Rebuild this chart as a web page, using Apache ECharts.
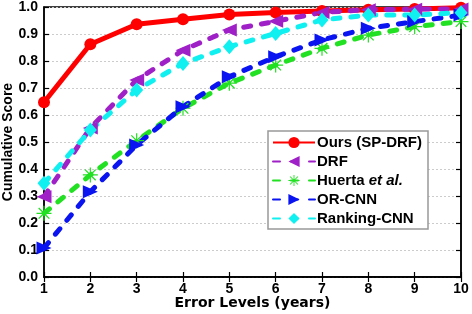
<!DOCTYPE html>
<html><head><meta charset="utf-8">
<script src="https://cdn.jsdelivr.net/npm/echarts@6/dist/echarts.min.js"></script>
<style>html,body{margin:0;padding:0;background:#fff}#c{width:472px;height:314px}</style>
</head><body><div id="c"></div>
<script>
var errorLevels = [1,2,3,4,5,6,7,8,9,10];
var yTicks = [0,0.1,0.2,0.3,0.4,0.5,0.6,0.7,0.8,0.9,1.0];
var oursSPDRF = [0.647,0.862,0.936,0.955,0.972,0.98,0.985,0.99,0.993,0.997];
var drf = [0.297,0.552,0.73,0.84,0.915,0.947,0.98,0.99,0.992,0.993];
var huerta = [0.236,0.378,0.505,0.625,0.718,0.785,0.847,0.896,0.927,0.946];
var orCnn = [0.107,0.316,0.489,0.631,0.742,0.816,0.878,0.921,0.946,0.97];
var rankingCnn = [0.347,0.544,0.693,0.791,0.853,0.902,0.952,0.97,0.97,0.979];

function pairs(v){ return errorLevels.map(function(x,i){ return [x, v[i]]; }); }
var FONT = 'Liberation Sans';
var asterisk = 'path://M-0.8,-10L0.8,-10L0.8,10L-0.8,10Z M-10,-0.8L10,-0.8L10,0.8L-10,0.8Z M-7.7,-6.5L-6.5,-7.7L7.7,6.5L6.5,7.7Z M6.5,-7.7L7.7,-6.5L-6.5,7.7L-7.7,6.5Z';

var chart = echarts.init(document.getElementById('c'), null, {renderer:'canvas'});
var dash = {type:[7,11], cap:'round', width:5};
chart.setOption({
  animation:false,
  grid:{left:44, right:11, top:7, bottom:37, outerBoundsMode:'none', containLabel:false,
        show:true, borderColor:'#000', borderWidth:1.5},
  legend:{
    orient:'vertical', left:268, top:131,
    backgroundColor:'#fff', borderColor:'#999', borderWidth:1.5,
    padding:[4,6,3,4], itemGap:4, itemWidth:42, itemHeight:14,
    textStyle:{fontFamily:FONT, fontWeight:'bold', fontSize:15, color:'#000', padding:[0,0,0,-3],
      rich:{i:{fontFamily:FONT, fontWeight:'bold', fontStyle:'italic', fontSize:15, color:'#000'}}},
    formatter:function(n){ return n==='Huerta et al.' ? 'Huerta {i|et al.}' : n; },
    data:['Ours (SP-DRF)','DRF','Huerta et al.','OR-CNN','Ranking-CNN']
  },
  xAxis:[{
    type:'value', min:1, max:10, interval:1,
    name:'Error Levels (years)', nameLocation:'middle', nameGap:19, nameMoveOverlap:false,
    nameTextStyle:{fontFamily:'DejaVu Sans', fontWeight:'bold', fontSize:14, color:'#000'},
    axisLine:{show:true, lineStyle:{color:'#000', width:1.5}},
    axisTick:{inside:true, length:5, lineStyle:{color:'#000', width:1.2}},
    axisLabel:{fontFamily:FONT, fontWeight:'bold', fontSize:14, color:'#000', margin:5},
    splitLine:{show:false}
  },{
    type:'value', min:1, max:10, interval:1, position:'top',
    axisLine:{show:true, lineStyle:{color:'#000', width:1.5}},
    axisTick:{inside:true, length:5, lineStyle:{color:'#000', width:1.2}},
    axisLabel:{show:false}, splitLine:{show:false}
  }],
  yAxis:[{
    type:'value', min:0, max:1, interval:0.1,
    name:'Cumulative Score', nameLocation:'middle', nameGap:29, nameMoveOverlap:false,
    nameTextStyle:{fontFamily:FONT, fontWeight:'bold', fontSize:14, color:'#000'},
    axisLine:{show:true, lineStyle:{color:'#000', width:1.5}},
    axisTick:{inside:true, length:5, lineStyle:{color:'#000', width:1.2}},
    axisLabel:{fontFamily:FONT, fontWeight:'bold', fontSize:14, color:'#000', margin:6,
      formatter:function(v){ return v.toFixed(1); }},
    splitLine:{show:true, lineStyle:{color:'#ccc', type:[2,2], width:1}}
  },{
    type:'value', min:0, max:1, interval:0.1, position:'right',
    axisLine:{show:true, lineStyle:{color:'#000', width:1.5}},
    axisTick:{inside:true, length:5, lineStyle:{color:'#000', width:1.2}},
    axisLabel:{show:false}, splitLine:{show:false}
  }],
  series:[
    {name:'Ours (SP-DRF)', type:'line', data:pairs(oursSPDRF), color:'#ff0000',
     symbol:'circle', symbolSize:12, lineStyle:{width:5, color:'#ff0000'}, itemStyle:{color:'#ff0000'}},
    {name:'DRF', type:'line', data:pairs(drf), color:'#a020c8',
     symbol:'triangle', symbolRotate:90, symbolSize:[13,15], lineStyle:Object.assign({color:'#a020c8'},dash), itemStyle:{color:'#a020c8'}},
    {name:'Huerta et al.', type:'line', data:pairs(huerta), color:'#22e022',
     symbol:asterisk, symbolSize:15, lineStyle:Object.assign({color:'#22e022'},dash), itemStyle:{color:'#22e022'}},
    {name:'OR-CNN', type:'line', data:pairs(orCnn), color:'#0a14f0',
     symbol:'triangle', symbolRotate:-90, symbolSize:[13,15], lineStyle:Object.assign({color:'#0a14f0'},dash), itemStyle:{color:'#0a14f0'}},
    {name:'Ranking-CNN', type:'line', data:pairs(rankingCnn), color:'#10f0f0',
     symbol:'diamond', symbolSize:[13,15], lineStyle:Object.assign({color:'#10f0f0'},dash), itemStyle:{color:'#10f0f0'}}
  ]
});
</script></body></html>
